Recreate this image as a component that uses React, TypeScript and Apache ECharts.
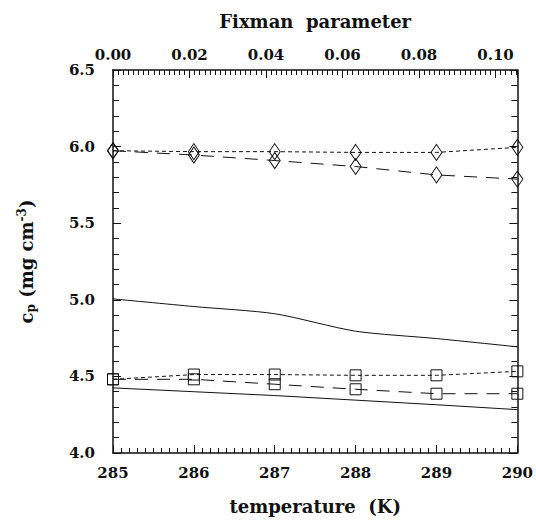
import React, { useEffect, useRef } from "react";
import * as echarts from "echarts";

const temperatures = [285, 286, 287, 288, 289, 290];
const diamondDotted = [5.973, 5.967, 5.967, 5.962, 5.962, 5.995];
const diamondDashed = [5.973, 5.945, 5.909, 5.87, 5.815, 5.788];
const squareDotted = [4.481, 4.512, 4.512, 4.507, 4.507, 4.533];
const squareDashed = [4.481, 4.481, 4.449, 4.416, 4.387, 4.387];
const solidUpper = [5.006, 4.956, 4.909, 4.795, 4.747, 4.693];
const solidLower = [4.425, 4.4, 4.375, 4.345, 4.315, 4.283];
const yTicks = [4.0, 4.5, 5.0, 5.5, 6.0, 6.5];
const fixmanMax = 0.1057;

const FONT = "DejaVu Serif";

function pairs(vals: number[]) {
  return temperatures.map((t, i) => [t, vals[i]]);
}

export default function App() {
  const ref = useRef<HTMLDivElement>(null);
  useEffect(() => {
    if (!ref.current) return;
    const chart = echarts.init(ref.current, undefined, { renderer: "svg" });
    const black = "#111";
    const labelStyle = { color: black, fontFamily: FONT, fontWeight: "bold" as const, fontSize: 15 };
    const mkLine = (
      name: string,
      vals: number[],
      type: any,
      symbol: string,
      symbolSize: any,
      smooth: any = false
    ) => ({
      name,
      type: "line",
      data: pairs(vals),
      xAxisIndex: 0,
      yAxisIndex: 0,
      symbol,
      symbolSize,
      showSymbol: symbol !== "none",
      smooth,
      lineStyle: { color: black, width: 1, type },
      itemStyle: { color: "transparent", borderColor: black, borderWidth: 1 },
      z: 3,
    });
    chart.setOption({
      animation: false,
      backgroundColor: "#fff",
      grid: { left: 113, right: 18, top: 70, bottom: 63 },
      xAxis: [
        {
          type: "value",
          position: "bottom",
          min: 285,
          max: 290,
          interval: 1,
          name: "temperature  (K)",
          nameLocation: "middle",
          nameGap: 44,
          nameTextStyle: { ...labelStyle, fontSize: 18 },
          axisLine: { show: true, onZero: false, lineStyle: { color: black, width: 1.5 } },
          axisTick: { show: true, inside: true, length: 8, lineStyle: { color: black } },
          minorTick: { show: true, splitNumber: 10, length: 5, lineStyle: { color: black } },
          axisLabel: { ...labelStyle, margin: 12, formatter: (v: number) => String(Math.round(v)) },
          splitLine: { show: false },
          minorSplitLine: { show: false },
        },
        {
          type: "value",
          position: "top",
          min: 0,
          max: fixmanMax,
          interval: 0.02,
          name: "Fixman  parameter",
          nameLocation: "middle",
          nameGap: 40,
          nameTextStyle: { ...labelStyle, fontSize: 18 },
          axisLine: { show: true, onZero: false, lineStyle: { color: black, width: 1.5 } },
          axisTick: { show: true, inside: true, length: 8, lineStyle: { color: black } },
          minorTick: { show: true, splitNumber: 15, length: 5, lineStyle: { color: black } },
          axisLabel: {
            ...labelStyle,
            margin: 8,
            showMaxLabel: false,
            formatter: (v: number) => (v > 0.1001 ? "" : v.toFixed(2)),
          },
          splitLine: { show: false },
          minorSplitLine: { show: false },
        },
      ],
      yAxis: [
        {
          type: "value",
          position: "left",
          min: 4,
          max: 6.5,
          interval: 0.5,
          name: "c{sub|p} (mg cm{sup|-3})",
          nameLocation: "middle",
          nameGap: 76,
          nameRotate: 90,
          nameTextStyle: {
            ...labelStyle,
            fontSize: 18,
            rich: {
              sub: { fontFamily: FONT, fontWeight: "bold", fontSize: 12, color: black, verticalAlign: "bottom", padding: [9, 0, 0, 0] },
              sup: { fontFamily: FONT, fontWeight: "bold", fontSize: 12, color: black, verticalAlign: "top", padding: [0, 0, 9, 0] },
            },
          },
          axisLine: { show: true, onZero: false, lineStyle: { color: black, width: 1.5 } },
          axisTick: { show: true, inside: true, length: 8, lineStyle: { color: black } },
          minorTick: { show: true, splitNumber: 5, length: 6, lineStyle: { color: black } },
          axisLabel: {
            ...labelStyle,
            margin: 18,
            formatter: (v: number) => (yTicks.some((t) => Math.abs(t - v) < 1e-6) ? v.toFixed(1) : ""),
          },
          splitLine: { show: false },
          minorSplitLine: { show: false },
        },
        {
          type: "value",
          position: "right",
          min: 4,
          max: 6.5,
          interval: 0.5,
          axisLine: { show: true, onZero: false, lineStyle: { color: black, width: 1.5 } },
          axisTick: { show: true, inside: true, length: 8, lineStyle: { color: black } },
          minorTick: { show: true, splitNumber: 5, length: 6, lineStyle: { color: black } },
          axisLabel: { show: false },
          splitLine: { show: false },
          minorSplitLine: { show: false },
        },
      ],
      series: [
        mkLine("solidUpper", solidUpper, "solid", "none", 0, 0.25),
        mkLine("solidLower", solidLower, "solid", "none", 0),
        mkLine("diamondDotted", diamondDotted, [4, 3], "diamond", [11, 16]),
        mkLine("diamondDashed", diamondDashed, [13, 9], "diamond", [11, 16]),
        mkLine("squareDotted", squareDotted, [4, 3], "rect", [11, 11]),
        mkLine("squareDashed", squareDashed, [13, 9], "rect", [11, 11]),
      ],
    });
    return () => chart.dispose();
  }, []);
  return (
    <div
      ref={ref}
      style={{ position: "fixed", left: 0, top: 0, width: 536, height: 520, background: "#fff" }}
    />
  );
}
